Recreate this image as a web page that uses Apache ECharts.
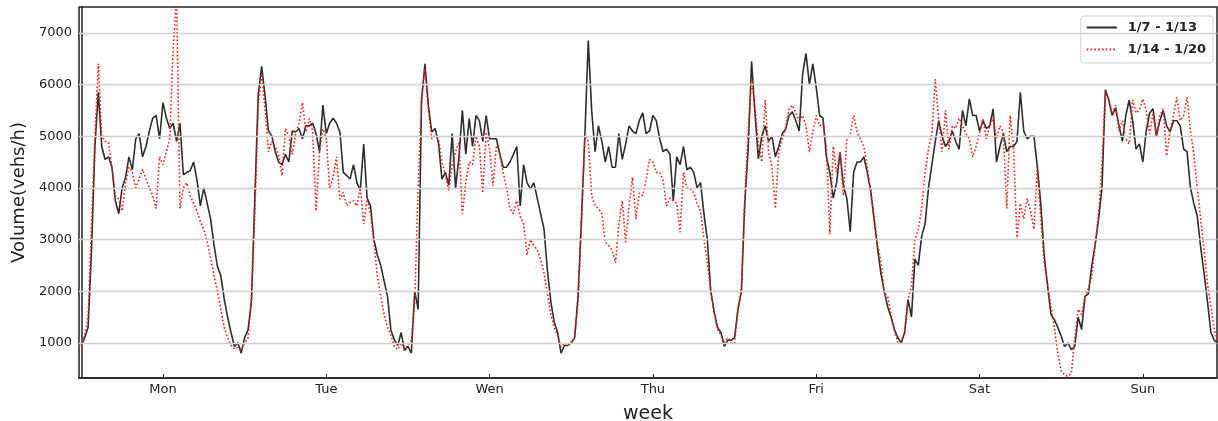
<!DOCTYPE html>
<html>
<head>
<meta charset="utf-8">
<script src="https://cdn.jsdelivr.net/npm/echarts@6/dist/echarts.min.js"></script>
<style>
  html, body { margin: 0; padding: 0; background: #fff; }
  #chart { width: 1218px; height: 421px; }
</style>
</head>
<body>
<div id="chart"></div>
<script>
// Day labels and tick positions (hours from start of the week)
const dayLabels = ['Mon', 'Tue', 'Wen', 'Thu', 'Fri', 'Sat', 'Sun'];
const dayTickHours = [12, 36, 60, 84, 108, 132, 156];
const yTicks = [1000, 2000, 3000, 4000, 5000, 6000, 7000];
const seriesNames = ['1/7 - 1/13', '1/14 - 1/20'];

// Week 1 (1/7 - 1/13), half-hourly samples, 48 per day
const w1Mon = [950,1100,1300,2800,4800,5850,4800,4550,4600,4400,3750,3500,4000,4200,4600,4350,4950,5050,4600,4800,5100,5350,5400,4950,5650,5350,5150,5250,4900,5250,4250,4300,4330,4500,4150,3650,4000,3700,3400,2900,2480,2300,1850,1500,1200,930,1000,800];
const w1Tue = [1100,1250,1800,3800,5800,6350,5790,5100,5000,4700,4500,4450,4650,4500,5100,5080,5150,4950,5200,5200,5250,5050,4700,5600,5050,5250,5350,5250,5080,4300,4240,4170,4450,4100,3950,4850,3800,3650,3000,2700,2500,2200,1900,1250,1060,950,1200,850];
const w1Wed = [930,800,2000,1650,5700,6400,5600,5080,5150,4850,4170,4300,4050,5050,4000,4600,5500,4650,5340,4800,5400,5300,4900,5400,4950,4950,4950,4650,4400,4400,4500,4650,4800,3650,4450,4100,3980,4100,3800,3500,3200,2400,1800,1400,1200,800,950,950];
const w1Thu = [1000,1100,1900,3400,5000,6850,5500,4700,5200,4900,4500,4800,4400,4400,5050,4550,4850,5200,5100,5050,5300,5450,5050,5100,5400,5300,4950,4700,4750,4650,3750,4600,4450,4800,4350,4400,4300,4000,4100,3500,3000,2000,1600,1300,1200,930,1050,1050];
const w1Fri = [1100,1650,2000,3700,4750,6450,5450,4560,5000,5200,4900,5000,4600,4800,5050,5140,5400,5470,5300,5100,6200,6600,6000,6400,5950,5400,5350,4600,4300,3800,4100,4690,4040,3800,3150,4300,4500,4500,4600,4300,3950,3400,2850,2350,2000,1700,1500,1250];
const w1Sat = [1100,1000,1200,1840,1500,2620,2500,3070,3300,4000,4450,4900,5300,5000,4800,4900,5100,4900,4750,5500,5200,5720,5400,5400,5100,5300,5150,5200,5530,4500,4800,5050,4700,4800,4800,4900,5850,5100,4950,5000,5000,4400,3700,2700,2100,1550,1450,1300];
const w1Sun = [1130,930,1000,870,930,1500,1260,1900,1950,2500,2900,3400,4000,5900,5700,5400,5550,5200,4900,5400,5700,5300,4750,4850,4500,5100,5450,5530,5000,5300,5500,5200,5080,5300,5300,5200,4750,4700,4000,3700,3450,2850,2350,1800,1200,1050,1000,980];

// Week 2 (1/14 - 1/20)
const w2Mon = [950,1150,1500,3300,5000,6400,5000,4900,4880,4400,3850,3780,3550,4100,4400,4300,4000,4170,4360,4170,4000,3850,3600,4600,4450,4700,4950,6700,7700,3600,4000,4100,3850,3700,3550,3350,3200,2950,2650,2300,2000,1650,1300,1100,950,880,920,870];
const w2Tue = [1000,1100,1800,3500,5600,6200,5530,4700,4900,4800,4620,4240,5150,5000,4650,5050,5250,5650,5080,5340,5100,3550,4700,5140,4950,3980,4200,4600,3780,3910,3650,3720,3750,3650,4000,3300,3780,3500,2950,2300,1900,1550,1300,1150,930,870,1000,880];
const w2Wed = [950,1050,1800,4000,5700,6300,5530,4950,5000,4950,4500,4250,3950,4450,4700,4880,3500,4100,4500,4450,5000,4800,3900,5080,4750,4040,4820,4650,4300,4000,3600,3500,3750,3450,3300,2700,3000,2880,2800,2620,2350,1950,1550,1300,1150,920,1000,950];
const w2Thu = [1000,1100,1800,3300,5000,4900,3850,3650,3600,3500,2950,2880,2800,2550,3300,3750,2950,3650,4200,3400,3900,3850,4150,4550,4500,4300,4300,4150,3650,3800,3750,3700,3140,4300,4000,3980,3900,3700,3550,3000,2550,2000,1600,1250,1150,1000,1100,1000];
const w2Fri = [1000,1650,2000,3780,5080,6100,5530,4880,4500,5700,4700,4400,3600,4700,4950,5140,5530,5600,5450,5300,5400,5200,4700,5080,5400,5200,5250,4750,3100,4800,4300,4700,3850,4950,5050,5400,5080,4950,4800,4400,3950,3450,2900,2600,1950,1900,1550,1250];
const w2Sat = [1000,1050,1200,1840,2100,3000,3200,3600,4300,4750,5050,6100,5300,4700,5500,4750,5200,5150,5350,5200,5050,4950,4600,4800,5050,5340,4950,5200,5350,4950,5200,5080,3600,5400,4800,3000,3700,3400,3800,3550,3200,4400,3400,2550,2150,1700,1300,800];
const w2Sun = [450,380,350,420,1100,1650,1550,1900,2050,2300,2900,3500,4500,5850,5700,5450,5600,5100,5300,4950,4850,5700,5450,5500,5720,5500,5050,5450,5000,5400,5530,4620,5100,5400,5750,5300,5400,5750,5100,4650,4000,3400,2800,2150,1700,1250,1050,950];

function toPoints(days) {
  const pts = [];
  days.forEach((arr, d) => arr.forEach((v, k) => pts.push([d * 24 + k * 0.5, v])));
  return pts;
}

const week1 = toPoints([w1Mon, w1Tue, w1Wed, w1Thu, w1Fri, w1Sat, w1Sun]);
const week2 = toPoints([w2Mon, w2Tue, w2Wed, w2Thu, w2Fri, w2Sat, w2Sun]);

const FONT = 'DejaVu Sans';
const chart = echarts.init(document.getElementById('chart'), null, { renderer: 'canvas' });
chart.setOption({
  animation: false,
  backgroundColor: '#ffffff',
  textStyle: { fontFamily: FONT },
  grid: {
    left: 79, right: 1, top: 7, bottom: 43,
    outerBoundsMode: 'none', containLabel: false,
    show: true, borderColor: '#222', borderWidth: 1.5, backgroundColor: 'transparent'
  },
  legend: {
    right: 5, top: 16,
    orient: 'vertical',
    data: seriesNames,
    itemWidth: 30, itemHeight: 14, itemGap: 9,
    padding: [5, 7, 7, 5],
    borderColor: '#d0d0d0', borderWidth: 1, borderRadius: 3,
    backgroundColor: 'rgba(255,255,255,0.85)',
    itemStyle: { opacity: 0 },
    textStyle: { fontFamily: FONT, fontSize: 13, fontWeight: 'bold', color: '#222', padding: [0, 0, 0, 6] }
  },
  xAxis: {
    type: 'value', min: -0.34, max: 166.9,
    name: 'week', nameLocation: 'middle', nameGap: 27,
    nameTextStyle: { fontFamily: FONT, fontSize: 19, color: '#222' },
    axisLine: { show: true, lineStyle: { color: '#222', width: 1.5 } },
    axisTick: { show: true, inside: true, length: 4, customValues: dayTickHours, lineStyle: { color: '#222', width: 1 } },
    axisLabel: {
      customValues: dayTickHours, fontFamily: FONT, fontSize: 13, color: '#222', margin: 5,
      formatter: (v) => dayLabels[Math.round((v - 12) / 24)]
    },
    splitLine: { show: false }
  },
  yAxis: {
    type: 'value', min: 320, max: 7500,
    name: 'Volume(vehs/h)', nameLocation: 'middle', nameGap: 43, nameRotate: 90,
    nameTextStyle: { fontFamily: FONT, fontSize: 18, color: '#222' },
    axisLine: { show: true, lineStyle: { color: '#222', width: 1.5 } },
    axisTick: { show: true, inside: true, length: 4, customValues: yTicks, lineStyle: { color: '#222', width: 1 } },
    axisLabel: { customValues: yTicks, fontFamily: FONT, fontSize: 13, color: '#222', margin: 7, formatter: (v) => String(v) },
    splitLine: { show: false }
  },
  series: [
    {
      name: 'grid', type: 'line', data: [], silent: true, z: 1,
      markLine: {
        silent: true, symbol: 'none', label: { show: false },
        lineStyle: { color: '#cfcfcf', width: 1.3, type: 'solid' },
        data: yTicks.map(v => ({ yAxis: v }))
      }
    },
    {
      name: seriesNames[0], type: 'line', data: week1, z: 3,
      showSymbol: false, symbol: 'none',
      lineStyle: { color: '#2e2e2e', width: 1.6 },
      itemStyle: { color: '#2e2e2e' }
    },
    {
      name: seriesNames[1], type: 'line', data: week2, z: 4,
      showSymbol: false, symbol: 'none',
      lineStyle: { color: '#ff1a1a', width: 1.6, type: [1.6, 2.2] },
      itemStyle: { color: '#ff1a1a' }
    }
  ]
});
</script>
</body>
</html>
